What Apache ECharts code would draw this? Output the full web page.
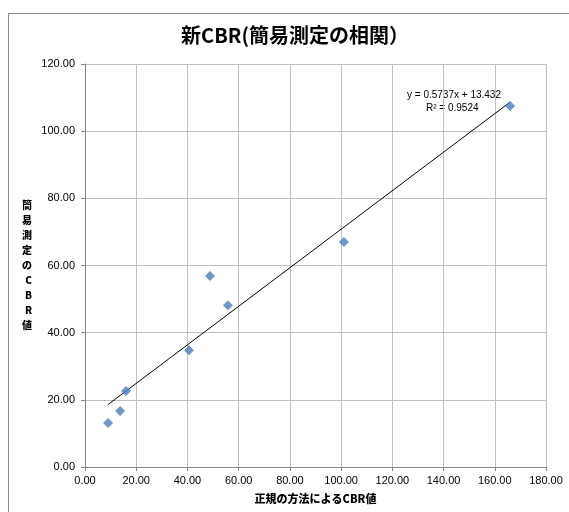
<!DOCTYPE html>
<html>
<head>
<meta charset="utf-8">
<script src="https://cdn.jsdelivr.net/npm/echarts@6/dist/echarts.min.js"></script>
<style>
  html, body { margin: 0; padding: 0; background: #fff; }
  #chart { width: 569px; height: 512px; }
</style>
</head>
<body>
<div id="chart"></div>
<script>
// 正規の方法によるCBR値 (x) と 簡易測定のCBR値 (y)
const standardCBR = [9.0, 13.7, 16.0, 40.6, 48.8, 55.8, 101.1, 166.0];
const simpleCBR   = [13.1, 16.7, 22.6, 34.8, 56.9, 48.2, 67.0, 107.5];

// 線形近似 y = a x + b
const slope = 0.5737;
const intercept = 13.432;
const rSquared = 0.9524;

const xTicks = { min: 0, max: 180, interval: 20 };
const yTicks = { min: 0, max: 120, interval: 20 };

const points = standardCBR.map((x, i) => [x, simpleCBR[i]]);
const xMin = Math.min(...standardCBR);
const xMax = Math.max(...standardCBR);
const trend = [[xMin, slope * xMin + intercept], [xMax, slope * xMax + intercept]];

const labelFont = 'Liberation Sans, Arial, sans-serif';
const cjkFont = '"Noto Sans CJK JP", sans-serif';

const chart = echarts.init(document.getElementById('chart'), null, { renderer: 'canvas' });
chart.setOption({
  animation: false,
  backgroundColor: '#fff',
  title: {
    text: '新CBR(簡易測定の相関）',
    left: 290,
    textAlign: 'center',
    top: 20,
    textStyle: { fontFamily: cjkFont, fontSize: 20, fontWeight: 'bold', color: '#000' }
  },
  grid: { left: 85, right: 23, top: 64, bottom: 45 },
  xAxis: {
    type: 'value',
    min: xTicks.min, max: xTicks.max, interval: xTicks.interval,
    name: '正規の方法によるCBR値',
    nameLocation: 'middle',
    nameGap: 26,
    nameTextStyle: { fontFamily: cjkFont, fontSize: 11, fontWeight: 900, color: '#000' },
    axisLine: { lineStyle: { color: '#868686', width: 1 } },
    axisTick: { show: true, inside: false, length: 4, lineStyle: { color: '#868686' } },
    axisLabel: { fontFamily: labelFont, fontSize: 11, color: '#000', margin: 8,
                 formatter: v => v.toFixed(2) },
    splitLine: { show: true, lineStyle: { color: '#bfbfbf', width: 1 } }
  },
  yAxis: {
    type: 'value',
    min: yTicks.min, max: yTicks.max, interval: yTicks.interval,
    name: '簡\n易\n測\n定\nの\nC\nB\nR\n値',
    nameLocation: 'middle',
    nameRotate: 0,
    nameGap: 53,
    nameTextStyle: { fontFamily: cjkFont, fontSize: 10, fontWeight: 900, color: '#000', lineHeight: 15 },
    axisLine: { show: true, lineStyle: { color: '#868686', width: 1 } },
    axisTick: { show: true, inside: false, length: 4, lineStyle: { color: '#868686' } },
    axisLabel: { fontFamily: labelFont, fontSize: 11, color: '#000', margin: 10,
                 formatter: v => v.toFixed(2) },
    splitLine: { show: true, lineStyle: { color: '#bfbfbf', width: 1 } }
  },
  series: [
    {
      type: 'line',
      data: trend,
      symbol: 'none',
      lineStyle: { color: '#000', width: 1 },
      z: 3
    },
    {
      type: 'scatter',
      data: points,
      symbol: 'diamond',
      symbolSize: 10,
      itemStyle: { color: '#4a7ebb' },
      z: 4
    }
  ],
  graphic: [
    {
      type: 'rect',
      shape: { x: 8.5, y: 13.5, width: 570, height: 520 },
      style: { fill: 'none', stroke: '#898989', lineWidth: 1 },
      silent: true
    },
    {
      type: 'text',
      left: 407, top: 90,
      style: { text: 'y = ' + slope + 'x + ' + intercept, font: '10px ' + labelFont, fill: '#000' }
    },
    {
      type: 'text',
      left: 426, top: 103,
      style: { text: 'R² = ' + rSquared, font: '10px ' + labelFont, fill: '#000' }
    }
  ]
});
</script>
</body>
</html>
